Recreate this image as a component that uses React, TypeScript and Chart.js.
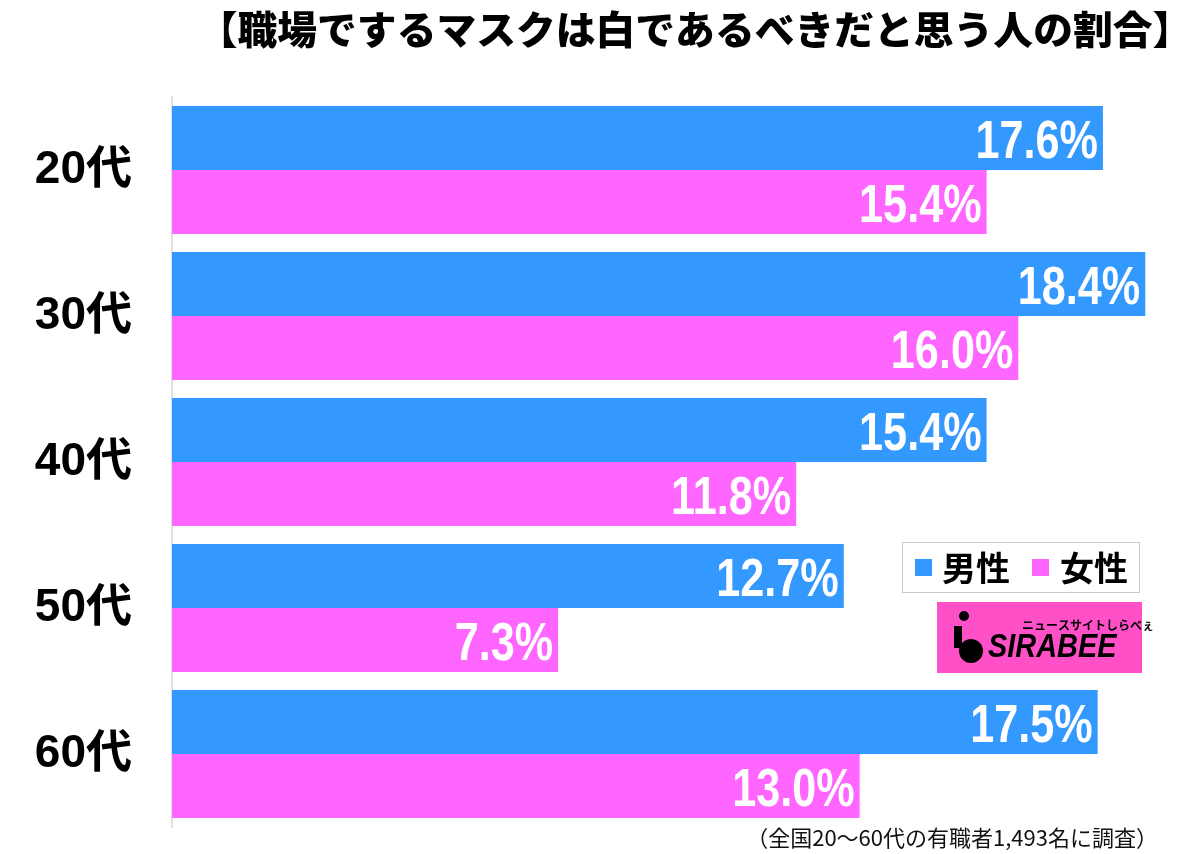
import React, { useEffect, useRef } from "react";
import { Chart, registerables } from "chart.js";

Chart.register(...registerables);

const categories = ["20代", "30代", "40代", "50代", "60代"];
const maleValues = [17.6, 18.4, 15.4, 12.7, 17.5];
const femaleValues = [15.4, 16.0, 11.8, 7.3, 13.0];
const seriesNames = ["男性", "女性"];
const titleText = "【職場でするマスクは白であるべきだと思う人の割合】";
const footnoteText = "（全国20～60代の有職者1,493名に調査）";

const BLUE = "#3399FF";
const PINK = "#FF66FF";
const JP = '"Noto Sans CJK JP", "Liberation Sans", sans-serif';

function narrowText(ctx: any, text: string, rightX: number, baseY: number, sx: number) {
  ctx.save();
  ctx.translate(rightX, baseY);
  ctx.scale(sx, 1);
  ctx.fillText(text, 0, 0);
  ctx.restore();
}

const overlayPlugin = {
  id: "overlay",
  afterDatasetsDraw(chart: any) {
    const ctx = chart.ctx;
    ctx.save();
    chart.data.datasets.forEach((ds: any, di: number) => {
      const meta = chart.getDatasetMeta(di);
      meta.data.forEach((bar: any, i: number) => {
        const v = ds.data[i];
        ctx.font = 'bold 54px "Liberation Sans", sans-serif';
        ctx.fillStyle = "#ffffff";
        ctx.textAlign = "right";
        ctx.textBaseline = "alphabetic";
        narrowText(ctx, v.toFixed(1) + "%", bar.x - 5, bar.y + 20, 0.8);
      });
    });
    ctx.restore();
  },
  afterDraw(chart: any) {
    const ctx = chart.ctx;
    ctx.save();
    // title
    ctx.fillStyle = "#000";
    ctx.font = "900 39px " + JP;
    ctx.textAlign = "center";
    ctx.textBaseline = "middle";
    ctx.save();
    ctx.translate(695, 29);
    ctx.scale(1.02, 1);
    ctx.fillText(titleText, 0, 0);
    ctx.restore();

    // footnote
    ctx.font = "22px " + JP;
    ctx.textAlign = "right";
    ctx.textBaseline = "middle";
    ctx.fillStyle = "#111";
    ctx.fillText(footnoteText, 1158, 838);

    // legend
    ctx.fillStyle = "#fff";
    ctx.fillRect(902, 542, 237, 50);
    ctx.strokeStyle = "#c8c8c8";
    ctx.lineWidth = 1;
    ctx.strokeRect(902.5, 542.5, 237, 50);
    ctx.fillStyle = BLUE;
    ctx.fillRect(915, 559, 17, 17);
    ctx.fillStyle = PINK;
    ctx.fillRect(1032, 559, 17, 17);
    ctx.fillStyle = "#000";
    ctx.font = "bold 34px " + JP;
    ctx.textAlign = "left";
    ctx.textBaseline = "middle";
    ctx.fillText(seriesNames[0], 942, 568);
    ctx.fillText(seriesNames[1], 1060, 568);

    // logo
    ctx.fillStyle = "#FF50C8";
    ctx.fillRect(937, 602, 205, 71);
    ctx.fillStyle = "#000";
    ctx.beginPath();
    ctx.arc(964, 616, 5, 0, Math.PI * 2);
    ctx.fill();
    ctx.lineWidth = 8;
    ctx.strokeStyle = "#000";
    ctx.beginPath();
    ctx.moveTo(958, 626);
    ctx.lineTo(958, 648);
    ctx.stroke();
    ctx.beginPath();
    ctx.arc(971, 651, 12, 0, Math.PI * 2);
    ctx.fill();
    ctx.font = 'italic bold 34px "Liberation Sans", sans-serif';
    ctx.textAlign = "left";
    ctx.textBaseline = "alphabetic";
    ctx.save();
    ctx.translate(988, 657);
    ctx.scale(0.85, 1);
    ctx.fillText("SIRABEE", 0, 0);
    ctx.restore();
    ctx.font = "bold 12px " + JP;
    ctx.fillText("ニュースサイトしらべぇ", 1022, 630);
    ctx.restore();
  },
};

export default function App() {
  const ref = useRef<HTMLCanvasElement | null>(null);
  useEffect(() => {
    if (!ref.current) return;
    const chart = new Chart(ref.current, {
      type: "bar",
      data: {
        labels: categories,
        datasets: [
          {
            label: seriesNames[0],
            data: maleValues,
            backgroundColor: BLUE,
            categoryPercentage: 128 / 146,
            barPercentage: 1,
          },
          {
            label: seriesNames[1],
            data: femaleValues,
            backgroundColor: PINK,
            categoryPercentage: 128 / 146,
            barPercentage: 1,
          },
        ],
      },
      options: {
        indexAxis: "y",
        responsive: false,
        animation: false,
        layout: { padding: { top: 97, bottom: 27, right: 23, left: 0 } },
        plugins: {
          legend: { display: false },
          tooltip: { enabled: false },
          title: { display: false },
        },
        scales: {
          x: { display: false, min: 0, max: 19 },
          y: {
            afterFit(scale: any) {
              scale.width = 172;
              scale.paddingTop = 0;
              scale.paddingBottom = 0;
            },
            grid: { display: true, drawOnChartArea: false, drawTicks: false },
            border: { display: true, color: "#e0e0e0", width: 2 },
            ticks: {
              padding: 40,
              color: "#000",
              font: { size: 46, weight: "bold", family: '"Liberation Sans", "Noto Sans CJK JP", sans-serif' },
            },
          },
        },
      },
      plugins: [overlayPlugin],
    } as any);
    return () => chart.destroy();
  }, []);
  return (
    <div style={{ position: "absolute", left: 0, top: 0, width: 1200, height: 854, background: "#fff" }}>
      <canvas ref={ref} width={1200} height={854} />
    </div>
  );
}
